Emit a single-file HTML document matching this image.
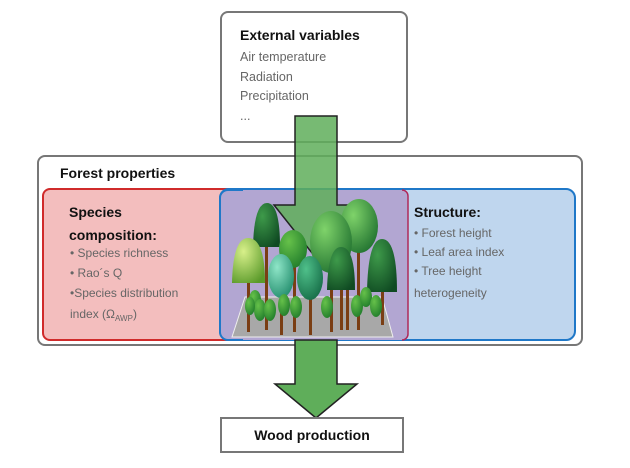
<!DOCTYPE html>
<html><head><style>
body{margin:0;background:#fff;width:630px;height:463px;overflow:hidden;font-family:"Liberation Sans",sans-serif}
</style></head><body>
<svg width="630" height="463" viewBox="0 0 630 463" xmlns="http://www.w3.org/2000/svg" font-family="Liberation Sans, sans-serif">
<defs>
<radialGradient id="g1" cx="0.35" cy="0.3" r="0.8"><stop offset="0" stop-color="#7fd36a"/><stop offset="1" stop-color="#1e6f2e"/></radialGradient>
<radialGradient id="g2" cx="0.35" cy="0.3" r="0.8"><stop offset="0" stop-color="#3e9a4a"/><stop offset="1" stop-color="#0f4a22"/></radialGradient>
<radialGradient id="g3" cx="0.35" cy="0.3" r="0.8"><stop offset="0" stop-color="#d8f08a"/><stop offset="1" stop-color="#5a9a2a"/></radialGradient>
<radialGradient id="g4" cx="0.35" cy="0.3" r="0.8"><stop offset="0" stop-color="#8fe6c8"/><stop offset="1" stop-color="#1f8a6a"/></radialGradient>
<radialGradient id="g5" cx="0.35" cy="0.3" r="0.8"><stop offset="0" stop-color="#4fc08a"/><stop offset="1" stop-color="#146a45"/></radialGradient>
<radialGradient id="g6" cx="0.35" cy="0.3" r="0.8"><stop offset="0" stop-color="#66c14a"/><stop offset="1" stop-color="#1e7a2a"/></radialGradient>
</defs>
<rect x="221" y="12" width="186" height="130" rx="7" fill="#fff" stroke="#777" stroke-width="2"/>
<text x="240" y="40" font-size="14" font-weight="bold" fill="#111">External variables</text>
<g font-size="12.5" fill="#666"><text x="240" y="61">Air temperature</text><text x="240" y="81">Radiation</text><text x="240" y="100">Precipitation</text><text x="240" y="120">...</text></g>
<rect x="38" y="156" width="544" height="189" rx="7" fill="#fff" stroke="#777" stroke-width="2"/>
<text x="60" y="178" font-size="14" font-weight="bold" fill="#111">Forest properties</text>
<rect x="43" y="189" width="200" height="151" rx="7" fill="#f3bebe" stroke="#d02b2b" stroke-width="2"/>
<rect x="220" y="189" width="355" height="151" rx="9" fill="#bfd6ee" stroke="#1f78c8" stroke-width="2"/>
<path d="M228 190 H402 a6 6 0 0 1 6 6 V334 a6 6 0 0 1 -6 6 H228 a8 8 0 0 1 -8 -8 V198 a8 8 0 0 1 8 -8z" fill="#b2a6d2" stroke="none"/>
<path d="M402 190 a6 6 0 0 1 6 6 V334 a6 6 0 0 1 -6 6" fill="none" stroke="#b0285a" stroke-width="1.5"/>
<path d="M243 190 H228 a8 8 0 0 0 -8 8 V332 a8 8 0 0 0 8 8 H243" fill="none" stroke="#1f78c8" stroke-width="2"/>
<text x="69" y="217" font-size="14" font-weight="bold" fill="#111">Species</text>
<text x="69" y="240" font-size="14" font-weight="bold" fill="#111">composition:</text>
<g font-size="12" fill="#666"><text x="70" y="257">• Species richness</text><text x="70" y="277">• Rao´s Q</text><text x="70" y="297">•Species distribution</text><text x="70" y="318">index  (Ω<tspan font-size="8" dy="3">AWP</tspan><tspan dy="-3">)</tspan></text></g>
<text x="414" y="217" font-size="14" font-weight="bold" fill="#111">Structure:</text>
<g font-size="12" fill="#666"><text x="414" y="237">• Forest height</text><text x="414" y="256">• Leaf area index</text><text x="414" y="275">• Tree height</text><text x="414" y="297">heterogeneity</text></g>
<path d="M295 340 V384 H275 L316 418 L357 384 H337 V340 Z" fill="#5fae5a" stroke="#222" stroke-width="1.5"/>
<path d="M295 116 V205 H274 L316 258 L358 205 H337 V116 Z" fill="#5fae5a" fill-opacity="0.85" stroke="#222" stroke-width="1.5"/>
<!-- trees -->
<polygon points="232,337 245,297 382,297 393,337" fill="#a8a8a8" stroke="#eee"/>
<g fill="#7a3e14">
<rect x="265" y="240" width="3" height="90"/><rect x="247" y="280" width="3" height="52"/><rect x="293" y="262" width="3" height="70"/><rect x="280" y="295" width="3" height="40"/><rect x="309" y="295" width="3" height="40"/><rect x="330" y="270" width="3" height="62"/><rect x="340" y="285" width="3" height="45"/><rect x="357" y="250" width="3" height="80"/><rect x="381" y="290" width="3" height="35"/><rect x="346" y="250" width="3" height="80"/></g>
<path d="M253 247 Q254 203 267 203 Q280 203 280 247Z" fill="url(#g2)"/>
<ellipse cx="293" cy="249" rx="14" ry="19" fill="url(#g6)"/>
<ellipse cx="359" cy="226" rx="19" ry="27" fill="url(#g1)"/>
<ellipse cx="331" cy="242" rx="21" ry="31" fill="url(#g1)"/>
<path d="M232 283 Q233 238 248 238 Q265 238 265 283Z" fill="url(#g3)"/>
<ellipse cx="281" cy="276" rx="13" ry="22" fill="url(#g4)"/>
<ellipse cx="310" cy="278" rx="13" ry="22" fill="url(#g5)"/>
<path d="M327 290 Q328 247 341 247 Q355 247 355 290Z" fill="url(#g2)"/>
<path d="M367 292 Q368 239 382 239 Q397 239 397 292Z" fill="url(#g2)"/>
<g fill="url(#g6)">
<ellipse cx="255" cy="300" rx="6" ry="10"/><ellipse cx="260" cy="310" rx="6" ry="11"/><ellipse cx="270" cy="310" rx="6" ry="11"/><ellipse cx="250" cy="306" rx="5" ry="9"/><ellipse cx="284" cy="305" rx="6" ry="11"/><ellipse cx="296" cy="307" rx="6" ry="11"/><ellipse cx="327" cy="307" rx="6" ry="11"/><ellipse cx="357" cy="306" rx="6" ry="11"/><ellipse cx="366" cy="297" rx="6" ry="10"/><ellipse cx="376" cy="306" rx="6" ry="11"/></g>
<rect x="221" y="418" width="182" height="34" fill="#fff" stroke="#777" stroke-width="2"/>
<text x="312" y="440" font-size="14" font-weight="bold" fill="#111" text-anchor="middle">Wood production</text>
</svg>
</body></html>
